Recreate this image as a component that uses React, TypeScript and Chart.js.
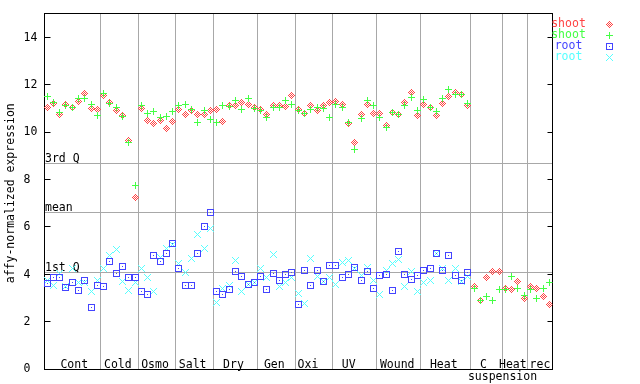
import React, { useEffect, useRef } from "react";
import { Chart, registerables } from "chart.js";

Chart.register(...registerables);

// ---------- data ----------
const groupLabels = ["Cont", "Cold", "Osmo", "Salt", "Dry", "Gen", "Oxi", "UV", "Wound", "Heat", "C|suspension", "Heat", "rec"];
const groupSizes = [9, 6, 6, 6, 7, 6, 6, 7, 7, 8, 5, 4, 4];

const yTicks = [0, 2, 4, 6, 8, 10, 12, 14];
const refValues = [8.69, 6.62, 4.09];
const refLabels = ["3rd Q", "mean", "1st Q"];

const legendLabels = ["shoot", "shoot", "root", "root"];
const yTitle = "affy-normalized expression";

const shootRed = [
  11.04, 11.21, 10.72, 11.17, 11.02, 11.28, 11.63, 11.01, 10.96,
  11.56, 11.24, 10.92, 10.71, 9.65, 7.25,
  11.0, 10.5, 10.34, 10.5, 10.14, 10.46,
  10.93, 10.75, 10.89, 10.72, 10.72, 10.92,
  10.96, 10.45, 11.13, 11.13, 11.25, 11.17, 11.04,
  10.96, 10.75, 11.12, 11.13, 11.09, 11.55,
  10.96, 10.79, 11.13, 10.9, 11.13, 11.25,
  11.3, 11.17, 10.37, 9.57, 10.75, 11.17, 10.79,
  10.79, 10.29, 10.84, 10.75, 11.25, 11.68, 10.71,
  11.17, 11.04, 10.71, 11.21, 11.51, 11.68, 11.59, 11.13,
  3.5, 2.91, 3.88, 4.13, 4.13,
  3.41, 3.37, 3.71, 2.99,
  3.46, 3.41, 3.08, 2.74,
];

const shootGreen = [
  11.48, 11.25, 10.82, 11.11, 11.03, 11.41, 11.42, 11.16, 10.69,
  11.63, 11.21, 11.04, 10.64, 9.57, 7.76,
  11.1, 10.76, 10.85, 10.61, 10.64, 10.85,
  11.1, 11.15, 10.97, 10.42, 10.92, 10.54,
  10.42, 11.1, 11.07, 11.35, 10.96, 11.42, 11.0,
  10.9, 10.63, 11.04, 11.04, 11.34, 11.17,
  10.89, 10.79, 10.96, 11.04, 11.0, 10.63,
  11.17, 11.04, 10.42, 9.27, 10.58, 11.34, 11.13,
  10.62, 10.2, 10.82, 10.75, 11.13, 11.47, 10.92,
  11.38, 11.04, 10.88, 11.42, 11.8, 11.59, 11.59, 11.21,
  3.41, 2.91, 3.04, 2.87, 3.37,
  3.37, 3.92, 3.41, 3.12,
  3.37, 2.99, 3.41, 3.63,
];

const rootBlue = [
  3.61, 3.88, 3.88, 3.43, 3.63, 3.33, 3.75, 2.61, 3.54,
  3.5, 4.55, 4.05, 4.34, 3.84, 3.84,
  3.29, 3.16, 4.81, 4.55, 4.89, 5.31,
  4.22, 3.54, 3.54, 4.89, 6.03, 6.62,
  3.29, 3.16, 3.37, 4.13, 3.92, 3.58, 3.67,
  3.92, 3.37, 4.05, 3.75, 4.0, 4.09,
  2.74, 4.17, 3.54, 4.17, 3.71, 4.38,
  4.38, 3.84, 4.0, 4.3, 3.75, 4.13, 3.41,
  3.96, 4.0, 3.33, 4.97, 4.0, 3.79, 3.96,
  4.17, 4.26, 4.89, 4.17, 4.81, 3.96, 3.75, 4.09,
];

const rootCyan = [
  3.74, 3.54, 4.05, 3.47, 4.26, 3.65, 3.65, 3.25, 3.72,
  4.26, 4.78, 5.03, 3.71, 3.33, 3.63,
  4.26, 3.88, 3.26, 4.69, 5.1, 5.27,
  4.44, 4.09, 4.68, 5.66, 5.07, 5.94,
  2.82, 3.41, 3.54, 4.59, 3.25, 3.58, 3.67,
  4.26, 3.84, 4.85, 3.5, 3.63, 3.84,
  3.2, 2.78, 4.68, 3.92, 3.71, 3.88,
  3.58, 4.51, 4.59, 4.24, 3.96, 4.3, 3.75,
  3.16, 4.17, 4.47, 4.64, 3.5, 4.13, 3.25,
  3.67, 3.75, 4.89, 4.26, 3.75, 4.22, 3.71, 3.92,
];

// ---------- styles ----------
const RED = "#ff4444";
const GREEN = "#44ff44";
const BLUE = "#4444ff";
const CYAN = "#55ffff";
const GRAY = "#a8a8a8";
const FONT = "11.5px 'DejaVu Sans Mono', monospace";
// small horizontal nudges (px) of the group captions
const labelNudge = [2, -1.5, -2, -2, -2, -2, -6, -6, -1.5, -2, -3, -2, 0];

function makeMarker(color: string, kind: string): HTMLCanvasElement {
  const c = document.createElement("canvas");
  c.width = 7;
  c.height = 7;
  const g = c.getContext("2d") as CanvasRenderingContext2D;
  g.fillStyle = color;
  for (let y = 0; y < 7; y++) {
    for (let x = 0; x < 7; x++) {
      const dx = x - 3;
      const dy = y - 3;
      const m = Math.abs(dx) + Math.abs(dy);
      let on = false;
      if (kind === "diamond") on = m <= 3 && m % 2 === 1;
      else if (kind === "plus") on = dx === 0 || dy === 0;
      else if (kind === "square") on = x === 0 || y === 0 || x === 6 || y === 6 || (dx === 0 && dy === 0);
      else if (kind === "x") on = Math.abs(dx) === Math.abs(dy);
      if (on) g.fillRect(x, y, 1, 1);
    }
  }
  return c;
}

const toPts = (arr: number[]) => arr.map((v, i) => ({ x: i, y: v }));

export default function App() {
  const ref = useRef<HTMLCanvasElement | null>(null);

  useEffect(() => {
    const canvas = ref.current;
    if (!canvas) return;
    const mRed = makeMarker(RED, "diamond");
    const mGreen = makeMarker(GREEN, "plus");
    const mBlue = makeMarker(BLUE, "square");
    const mCyan = makeMarker(CYAN, "x");
    const legendMarkers = [mRed, mGreen, mBlue, mCyan];
    const legendColors = [RED, GREEN, BLUE, CYAN];

    const decor = {
      id: "decor",
      beforeDatasetsDraw(chart: any) {
        const ctx: CanvasRenderingContext2D = chart.ctx;
        const a = chart.chartArea;
        const xs = chart.scales.x;
        const ys = chart.scales.y;
        const L = Math.floor(a.left) + 0.5;
        const R = Math.floor(a.right) + 0.5;
        const T = Math.floor(a.top) + 0.5;
        const B = Math.floor(a.bottom) + 0.5;
        ctx.save();
        ctx.lineWidth = 1;
        // group separators
        ctx.strokeStyle = GRAY;
        let b = -0.5;
        const bounds: number[] = [b];
        groupSizes.forEach((s) => {
          b += s;
          bounds.push(b);
        });
        for (let i = 1; i < bounds.length - 1; i++) {
          const px = Math.floor(xs.getPixelForValue(bounds[i])) + 0.5;
          ctx.beginPath();
          ctx.moveTo(px, T);
          ctx.lineTo(px, B);
          ctx.stroke();
        }
        // reference lines
        refValues.forEach((v) => {
          const py = Math.floor(ys.getPixelForValue(v)) + 0.5;
          ctx.beginPath();
          ctx.moveTo(L, py);
          ctx.lineTo(R, py);
          ctx.stroke();
        });
        ctx.fillStyle = "#000";
        ctx.font = FONT;
        ctx.textAlign = "left";
        ctx.textBaseline = "alphabetic";
        refValues.forEach((v, i) => {
          const py = Math.floor(ys.getPixelForValue(v));
          ctx.fillText(refLabels[i], L + 0.5, py - 1);
        });
        // frame
        ctx.strokeStyle = "#000";
        ctx.strokeRect(L, T, R - L, B - T);
        // ticks
        yTicks.forEach((t) => {
          const py = Math.floor(ys.getPixelForValue(t)) + 0.5;
          ctx.beginPath();
          ctx.moveTo(L, py);
          ctx.lineTo(L + 6, py);
          ctx.moveTo(R - 5, py);
          ctx.lineTo(R, py);
          ctx.stroke();
        });
        // tick labels
        ctx.textAlign = "left";
        ctx.textBaseline = "middle";
        yTicks.forEach((t) => {
          const py = ys.getPixelForValue(t);
          ctx.fillText(String(t), 23.5, py + 0.5);
        });
        // y title
        ctx.save();
        ctx.translate(11, (a.top + a.bottom) / 2 + 2);
        ctx.rotate(-Math.PI / 2);
        ctx.textAlign = "center";
        ctx.textBaseline = "middle";
        ctx.fillText(yTitle, 0, 0);
        ctx.restore();
        // group labels
        ctx.textBaseline = "alphabetic";
        let start = 0;
        groupLabels.forEach((lab, i) => {
          const size = groupSizes[i];
          const cx = xs.getPixelForValue(start + (size - 1) / 2) + labelNudge[i];
          const parts = lab.split("|");
          ctx.textAlign = "center";
          ctx.fillText(parts[0], cx, a.bottom - 1);
          if (parts[1]) {
            ctx.textAlign = "left";
            ctx.fillText(parts[1], xs.getPixelForValue(start - 0.5) - 3, a.bottom + 11);
          }
          start += size;
        });
        // legend
        ctx.imageSmoothingEnabled = false;
        legendLabels.forEach((lab, i) => {
          const y = 24 + i * 11;
          ctx.fillStyle = legendColors[i];
          ctx.textAlign = "center";
          ctx.textBaseline = "middle";
          ctx.fillText(lab, 568.5, y);
          ctx.drawImage(legendMarkers[i], 606, y - 3);
        });
        ctx.restore();
        ctx.imageSmoothingEnabled = false;
      },
    };

    const ds = (label: string, data: number[], marker: HTMLCanvasElement, color: string, order: number) => ({
      label,
      data: toPts(data),
      pointStyle: marker,
      pointRadius: 3.5,
      pointHoverRadius: 3.5,
      borderColor: color,
      backgroundColor: color,
      showLine: false,
      order,
    });

    const chart = new Chart(canvas, {
      type: "scatter",
      data: {
        datasets: [
          ds("shoot", shootRed, mRed, RED, 4),
          ds("shoot", shootGreen, mGreen, GREEN, 3),
          ds("root", rootCyan, mCyan, CYAN, 2),
          ds("root", rootBlue, mBlue, BLUE, 1),
        ] as any,
      },
      options: {
        responsive: false,
        animation: false,
        events: [],
        layout: { padding: { left: 44, right: 87.5, top: 13.5, bottom: 15 } },
        plugins: { legend: { display: false }, tooltip: { enabled: false } },
        scales: {
          x: { type: "linear", min: -0.5, max: 80.5, display: false },
          y: { type: "linear", min: 0, max: 15, display: false },
        },
      } as any,
      plugins: [decor],
    });
    return () => chart.destroy();
  }, []);

  return (
    <div style={{ position: "fixed", left: 0, top: 0, width: 640, height: 384, background: "#fff" }}>
      <canvas ref={ref} width={640} height={384} style={{ display: "block", width: 640, height: 384 }} />
    </div>
  );
}
